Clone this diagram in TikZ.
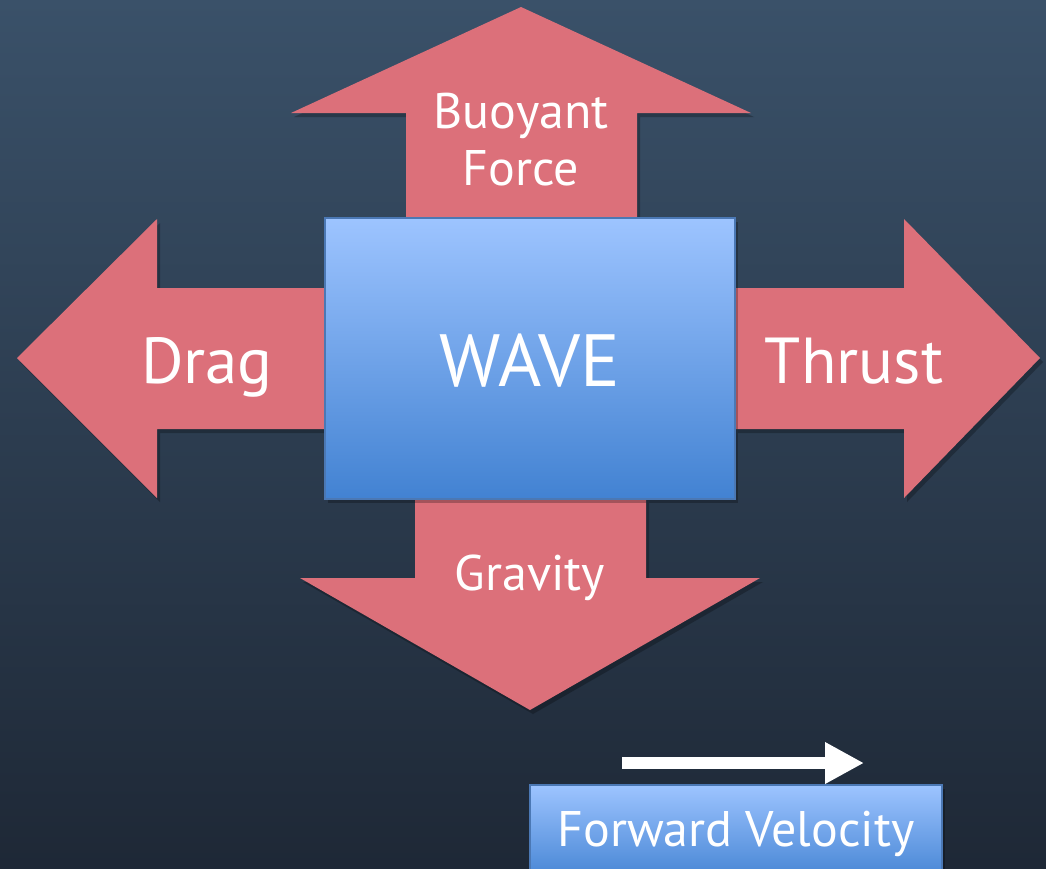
\documentclass[tikz,border=0pt]{standalone}
\usepackage{fontspec}
\setmainfont{PT Sans}
\usetikzlibrary{arrows.meta,positioning,calc}
\definecolor{bgtop}{RGB}{58,81,105}
\definecolor{bgbot}{RGB}{30,40,54}
\definecolor{forcered}{RGB}{220,112,122}
\definecolor{boxtop}{RGB}{157,196,255}
\definecolor{boxbot}{RGB}{66,130,210}
\definecolor{boxline}{RGB}{75,120,180}

\begin{document}
\begin{tikzpicture}[x=1pt, y=-1pt,
    dropshade/.style={preaction={fill=black, opacity=0.25, transform canvas={shift={(3pt,-4pt)}}}},
    force/.style={fill=forcered, dropshade},
    forcetext/.style={text=white, align=center, inner sep=0pt, font=\fontsize{50}{57}\selectfont},
    bigtext/.style={forcetext, anchor=base, font=\fontsize{65}{70}\selectfont},
    bluebox/.style={draw=boxline, line width=1.2pt, top color=boxtop, bottom color=boxbot,
        text=white, inner sep=0pt, dropshade}]

    % Background
    \useasboundingbox (0,0) rectangle (1046,868);
    \clip (0,0) rectangle (1046,868);
    \shade[top color=bgtop, bottom color=bgbot] (0,0) rectangle (1046,868);

    % Force arrows
    \fill[force] (406,218) -- (406,113) -- (291,113) -- (521,7) -- (751,113) -- (637,113) -- (637,218) -- cycle;
    \fill[force] (325,288) -- (157,288) -- (157,219) -- (17,358) -- (157,498) -- (157,429) -- (325,429) -- cycle;
    \fill[force] (735,288) -- (904,288) -- (904,219) -- (1040,358) -- (904,498) -- (904,429) -- (735,429) -- cycle;
    \fill[force] (415,499) -- (415,578) -- (300,578) -- (530,710) -- (760,578) -- (646,578) -- (646,499) -- cycle;

    % Force labels
    \node[forcetext] (buoyant) at (521,140) {Buoyant\\Force};
    \node[bigtext] (drag) at (207,383) {Drag};
    \node[bigtext] (thrust) at (854,383) {Thrust};
    \node[forcetext, anchor=base] (gravity) at (530,590) {Gravity};

    % Body
    \node[bluebox, minimum width=410pt, minimum height=281pt] (wave) at (530,358.5) {};
    \node[text=white, anchor=base, inner sep=0pt, font=\fontsize{74}{80}\selectfont] (wavetext) at (wave.center |- 0,386) {WAVE};

    % Velocity
    \node[bluebox, minimum width=412pt, minimum height=98pt, font=\fontsize{50}{57}\selectfont] (velocity) at (736,834) {Forward Velocity};
    \coordinate (vstart) at (622,763);
    \coordinate (vend) at (864,763);
    \draw[white, line width=12pt, -{Triangle[length=39pt, width=39pt]}] (vstart) -- (vend);
\end{tikzpicture}
\end{document}
